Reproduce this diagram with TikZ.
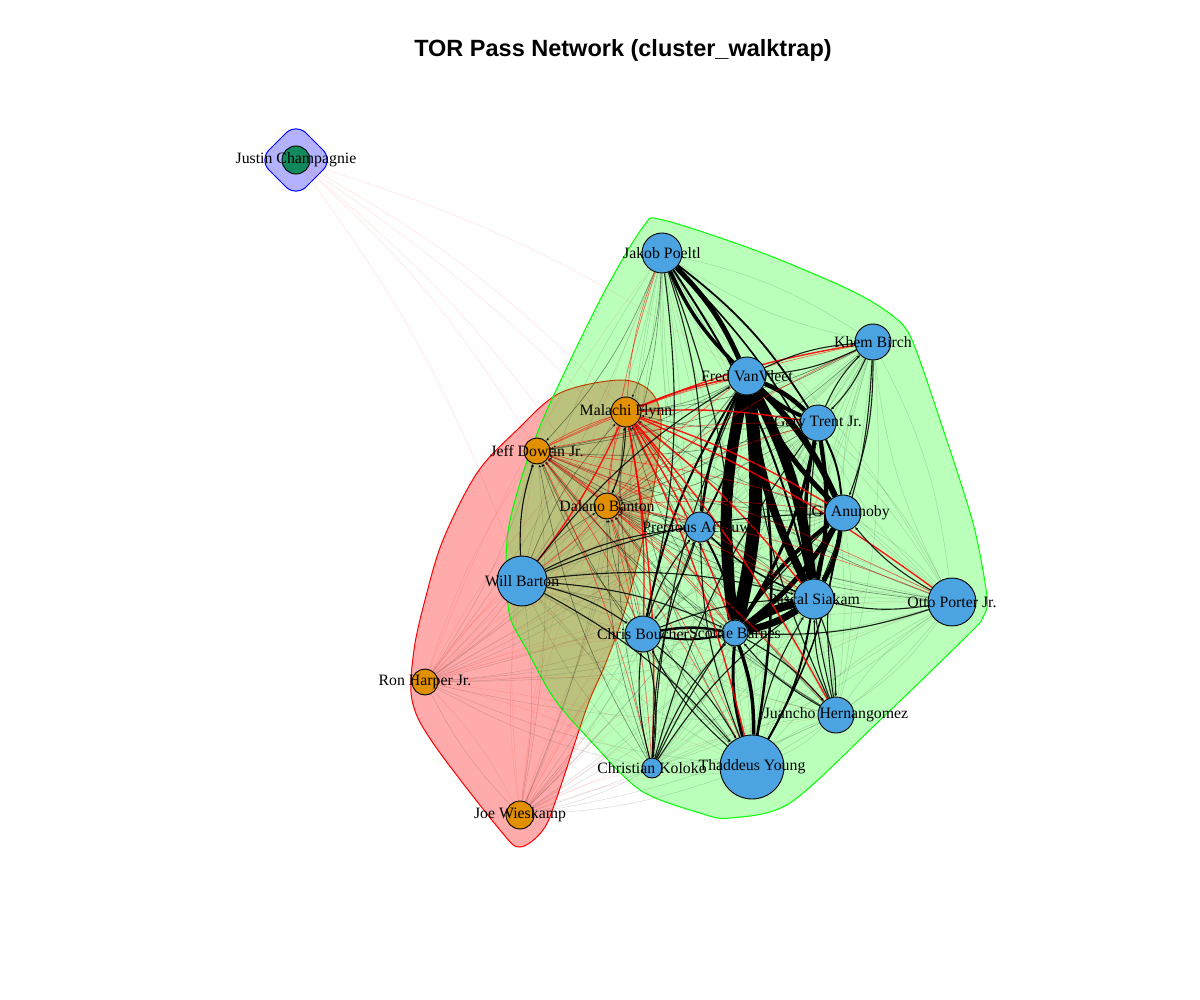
\documentclass[tikz,border=0pt]{standalone}
\usepackage{fontspec}
\setmainfont{Liberation Serif}
\newfontfamily\titlefont{Liberation Sans}
\usetikzlibrary{arrows.meta}
\pgfdeclarelayer{hull}
\pgfdeclarelayer{edges}
\pgfsetlayers{hull,edges,main}
\definecolor{nblue}{HTML}{4CA3E1}
\definecolor{norange}{HTML}{E28F00}
\definecolor{ngreen}{HTML}{138A5E}
\tikzset{
  pl/.style={circle,draw=black,line width=0.9pt,inner sep=0pt},
  lab/.style={font=\fontsize{15.8}{16}\selectfont,inner sep=0pt},
  faint/.style={draw=black,line width=0.5pt,draw opacity=0.15},
  fred/.style={draw=red,line width=0.5pt,draw opacity=0.12},
  mblack/.style={draw=black,line width=1.1pt,draw opacity=0.85,-{Latex[length=3pt,width=3pt]}},
  tblack/.style={draw=black,line width=0.6pt,draw opacity=0.45,-{Latex[length=3pt,width=3pt]}},
  redm/.style={draw=red,line width=1.4pt,draw opacity=0.9},
  redt/.style={draw=red,line width=0.7pt,draw opacity=0.55},
  thick/.style={draw=black,line width=#1},
}
\begin{document}
\begin{tikzpicture}[x=1pt,y=-1pt]
\useasboundingbox (0,0) rectangle (1200,1000);
\node[font=\titlefont\bfseries\fontsize{23.5}{24}\selectfont] (title) at (623,50) {TOR Pass Network (cluster\_walktrap)};
% nodes
\foreach \n/\x/\y/\r/\c in {
  jc/296/160/14/ngreen, jp/662/253/20/nblue, kb/873/342/18/nblue,
  fv/747/376/19/nblue, gt/818/423/18/nblue, mf/626/412/15/norange,
  jd/537/451/13/norange, db/607/506/13/norange, og/843/513/18/nblue,
  pa/700/527/15/nblue, wb/522/581/25/nblue, ps/814/599/20/nblue,
  op/952/602/24/nblue, cb/643/634/18/nblue, sb/735/633/13/nblue,
  rh/425/682/13/norange, jh/836/715/18/nblue, ty/752/767/32/nblue,
  ck/652/768/10/nblue, jw/520/815/14/norange}
  \node[pl,fill=\c,minimum size={2*\r*1pt}] (\n) at (\x,\y) {};
\foreach \n/\t in {jc/Justin Champagnie, jp/Jakob Poeltl, kb/Khem Birch,
  fv/Fred VanVleet, gt/Gary Trent Jr., mf/Malachi Flynn, jd/Jeff Dowtin Jr.,
  db/Dalano Banton, og/O.G. Anunoby, pa/Precious Achiuwa, wb/Will Barton,
  ps/Pascal Siakam, op/Otto Porter Jr., cb/Chris Boucher, sb/Scottie Barnes,
  rh/Ron Harper Jr., jh/Juancho Hernangomez, ty/Thaddeus Young,
  ck/Christian Koloko, jw/Joe Wieskamp}
  \node[lab] (\n-l) at (\n) {\t};
% hulls
\begin{pgfonlayer}{hull}
\fill[red,fill opacity=0.33] plot[smooth cycle,tension=0.55] coordinates {
 (620,380) (650,391) (661,420) (655,480) (643,540) (625,610) (605,665) (587,707)
 (557,797) (543,830) (520,847) (500,830) (433,743) (412,700) (414,650) (425,600)
 (443,540) (477,473) (517,430) (560,393)};
\draw[red,line width=1pt] plot[smooth cycle,tension=0.55] coordinates {
 (620,380) (650,391) (661,420) (655,480) (643,540) (625,610) (605,665) (587,707)
 (557,797) (543,830) (520,847) (500,830) (433,743) (412,700) (414,650) (425,600)
 (443,540) (477,473) (517,430) (560,393)};
\fill[green,fill opacity=0.27] plot[smooth cycle,tension=0.5] coordinates {
 (663,220) (760,252) (850,290) (893,316) (912,340) (940,420) (973,523) (987,597)
 (983,617) (970,633) (877,723) (790,803) (730,818) (700,813) (640,790) (587,737)
 (553,697) (527,650) (510,617) (506,570) (509,525) (525,467) (547,410) (600,300)
 (643,227)};
\draw[green,line width=1pt] plot[smooth cycle,tension=0.5] coordinates {
 (663,220) (760,252) (850,290) (893,316) (912,340) (940,420) (973,523) (987,597)
 (983,617) (970,633) (877,723) (790,803) (730,818) (700,813) (640,790) (587,737)
 (553,697) (527,650) (510,617) (506,570) (509,525) (525,467) (547,410) (600,300)
 (643,227)};
\draw[blue,line width=1pt,fill=blue,fill opacity=0.3,rounded corners=14pt]
 (296,123) -- (333,160) -- (296,197) -- (259,160) -- cycle;
\end{pgfonlayer}
% edges
\begin{pgfonlayer}{edges}
% faint web among blue cluster
\foreach \a [count=\i] in {jp,kb,fv,gt,og,pa,wb,ps,op,cb,sb,jh,ty,ck}{
  \foreach \b [count=\j] in {jp,kb,fv,gt,og,pa,wb,ps,op,cb,sb,jh,ty,ck}{
    \ifnum\j>\i
      \draw[faint] (\a) to[bend left=10] (\b);
      \draw[faint] (\b) to[bend left=10] (\a);
    \fi
  }
}
% faint edges of the far orange players and Justin
\foreach \a in {rh,jw}{
  \foreach \b in {jp,kb,fv,gt,og,pa,wb,ps,op,cb,sb,jh,ty,ck,mf,jd,db}{
    \draw[fred] (\a) to[bend left=8] (\b);
    \draw[faint] (\b) to[bend left=8] (\a);
  }
}
\draw[fred] (rh) to[bend left=8] (jw);
\draw[faint] (jw) to[bend left=8] (rh);
\foreach \b in {jd,mf,wb,fv,db,pa}{
  \draw[fred] (jc) to[bend left=8] (\b);
}
% black thin from blue to orange
\foreach \a in {jp,fv,gt,og,pa,wb,ps,cb,sb,jh,ty,ck,kb,op}{
  \foreach \b in {mf,jd,db}{
    \draw[tblack] (\a) to[bend left=10] (\b);
  }
}
% thick black bundle
\foreach \a/\b/\w in {fv/sb/13pt, sb/fv/11pt, fv/ps/10pt, ps/fv/8pt, sb/ps/8pt, ps/sb/7pt,
  fv/og/6pt, og/fv/5pt, fv/gt/4.5pt, gt/fv/4pt, og/sb/5pt, sb/og/4pt,
  gt/ps/4pt, ps/gt/3.5pt, gt/sb/3pt, og/ps/4.5pt, ps/og/4pt, jp/fv/5pt,
  fv/jp/3.5pt, jp/ps/2pt, jp/gt/1.8pt, jp/og/1.6pt, sb/ty/3.5pt, ty/sb/3pt,
  fv/ty/2.5pt, ps/ty/2pt, pa/fv/2.5pt, fv/pa/1.8pt, pa/sb/2pt, cb/sb/2.5pt,
  sb/cb/2pt, cb/fv/2pt, gt/og/2pt, og/gt/1.8pt, og/ty/1.5pt, ps/pa/1.5pt}
  \draw[thick=\w] (\a) to[bend left=10] (\b);
% red edges from orange players
\foreach \b in {fv,gt,og,pa,ps,sb,cb,ty,ck,jh,wb,op,kb}
  \draw[redm] (mf) to[bend left=6] (\b);
\draw[redt] (mf) to[bend left=8] (jp);
\foreach \b in {fv,gt,og,pa,ps,sb,cb,ty,ck,jh,op,kb,mf,db}
  \draw[redt] (jd) to[bend left=6] (\b);
\foreach \b in {fv,gt,og,pa,ps,sb,cb,ty,ck,jh,op,kb,wb,jp}
  \draw[redt] (db) to[bend left=6] (\b);
\draw[redt] (db) to[bend left=8] (mf);
% medium black
\foreach \a/\b in {wb/cb, wb/sb, wb/ps, wb/pa, wb/fv, wb/og, wb/ty, wb/jd,
  ck/sb, ck/fv, ck/ps, ck/pa, ck/og, ck/gt, ck/cb, cb/pa, cb/ck, cb/ps, cb/ty,
  jh/sb, jh/ps, jh/fv, jh/og, jh/gt, ty/cb, ty/pa, ty/ps, kb/fv, kb/gt, kb/og, kb/ps,
  op/ps, op/og, op/sb, jp/pa, jp/sb, jp/cb, mf/db, pa/cb, sb/jh, ps/jh, fv/kb, gt/kb}
  \draw[mblack] (\a) to[bend left=10] (\b);
\end{pgfonlayer}
\end{tikzpicture}
\end{document}
